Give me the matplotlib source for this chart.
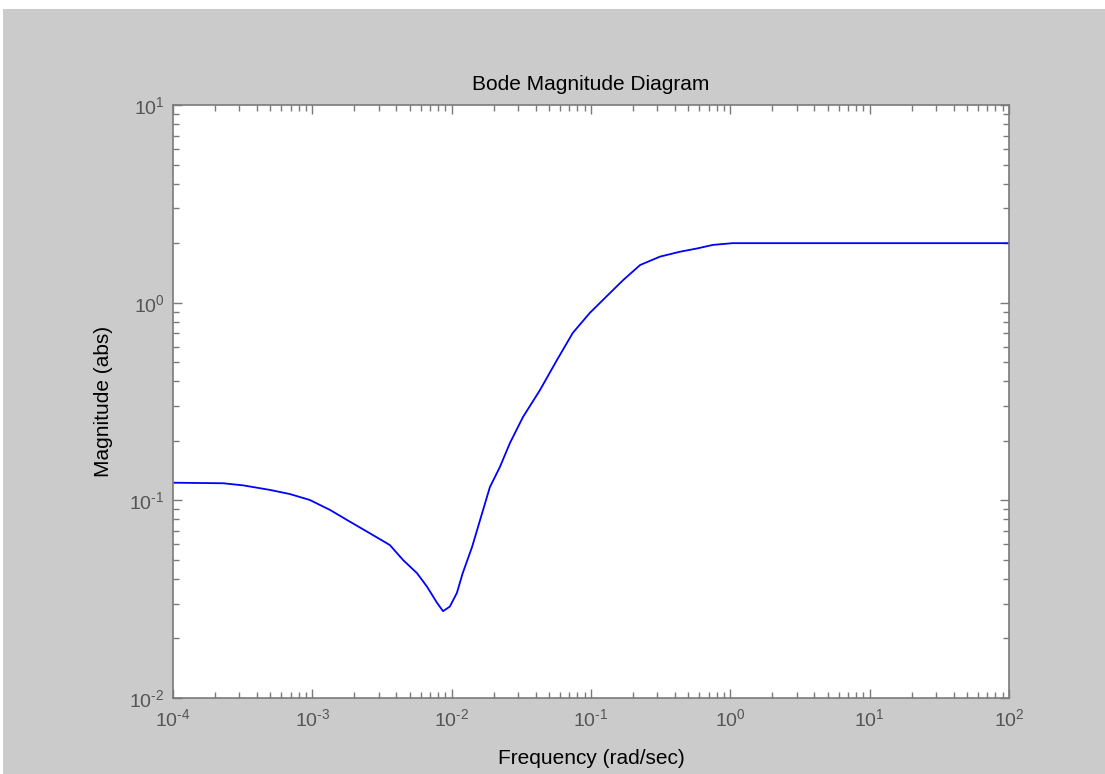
import numpy as np
import matplotlib
matplotlib.use("Agg")
import matplotlib.pyplot as plt
from matplotlib.patches import Rectangle
from matplotlib.ticker import FuncFormatter

# frequency (rad/sec) and magnitude (abs)
freq = [1e-4, 2.3e-4, 3.2e-4, 5.0e-4, 6.9e-4, 9.6e-4, 1.34e-3, 1.86e-3,
        2.6e-3, 3.6e-3, 4.48e-3, 5.64e-3, 6.65e-3, 7.85e-3, 8.67e-3,
        9.7e-3, 1.09e-2, 1.2e-2, 1.4e-2, 1.6e-2, 1.88e-2, 2.22e-2, 2.62e-2,
        3.25e-2, 4.3e-2, 5.7e-2, 7.4e-2, 9.8e-2, 0.137, 0.17, 0.225, 0.313,
        0.435, 0.577, 0.75, 1.04, 100.0]
mag = [0.1228, 0.122, 0.119, 0.1128, 0.1076, 0.1004, 0.0894, 0.078,
       0.068, 0.0594, 0.0499, 0.0428, 0.0366, 0.0303, 0.0275,
       0.029, 0.034, 0.0428, 0.058, 0.0796, 0.1166, 0.1476, 0.195,
       0.264, 0.361, 0.513, 0.703, 0.887, 1.12, 1.30, 1.55, 1.71,
       1.81, 1.88, 1.96, 2.0, 2.0]

plt.rcParams['font.family'] = ['Liberation Sans', 'DejaVu Sans']
plt.rcParams['mathtext.fontset'] = 'custom'
plt.rcParams['mathtext.rm'] = 'Liberation Sans'
plt.rcParams['mathtext.it'] = 'Liberation Sans'


def pow10(v, pos):
    n = int(round(np.log10(v)))
    return r'$10^{\text{%d}}$' % n


fig = plt.figure(figsize=(11.05, 7.74), dpi=100)
fig.patch.set_facecolor('white')
fig.patches.append(Rectangle((3 / 1105, 0), 1, 1 - 9 / 774, transform=fig.transFigure,
                             facecolor='#cbcbcb', edgecolor='none', zorder=-10))

ax = fig.add_axes([173 / 1105, 1 - 698 / 774, 836 / 1105, 593 / 774])
ax.plot(freq, mag, color='#0000ff', lw=1.3)
ax.set_xscale('log')
ax.set_yscale('log')
ax.set_xlim(1e-4, 1e2)
ax.set_ylim(1e-2, 1e1)
ax.xaxis.set_major_formatter(FuncFormatter(pow10))
ax.yaxis.set_major_formatter(FuncFormatter(pow10))

for s in ax.spines.values():
    s.set_color('#7a7a7a')
    s.set_linewidth(1.2)
ax.tick_params(which='both', direction='in', top=True, right=True,
               color='#7a7a7a', labelcolor='#555555', labelsize=14)
ax.tick_params(which='major', length=6.5, width=1)
ax.tick_params(which='minor', length=4, width=1)
ax.tick_params(axis='x', pad=7)
ax.tick_params(axis='y', pad=6)

ax.set_title("Bode Magnitude Diagram", fontsize=15, color='black', pad=11)
ax.set_xlabel("Frequency (rad/sec)", fontsize=15, labelpad=14)
ax.set_ylabel("Magnitude (abs)", fontsize=15, labelpad=12)

plt.savefig('out.png', dpi=100)
